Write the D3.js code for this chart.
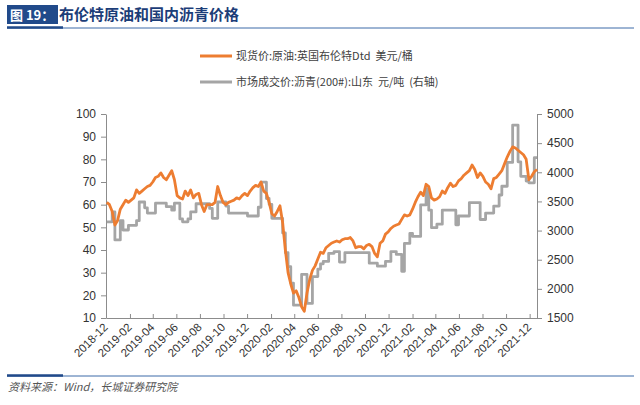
<!DOCTYPE html>
<html><head><meta charset="utf-8">
<script src="https://cdn.jsdelivr.net/npm/d3@7/dist/d3.min.js"></script>
<style>body{margin:0;background:#fff}svg text{white-space:pre}</style>
</head><body><svg id="c" width="640" height="405"></svg>
<script>
// ---- data (weekly, starting Monday 2018-12-03) ----
const startDate = "2018-12-03";
const endDate = "2021-12-20";
const brent = [
61,60,57,51,53, 58,60,62,61, 62,63,66.5,65, 66,67,68,68.5, 70,72,72.5,74,72,
71,73,75,71, 64,63,62.5,66, 64,66.5,63,64.5,65, 60,57,60,60, 60,61,68,64,61,
60,61,61.5,62, 63,62.5,64,65, 64,66,67.5,68.5,68,
70,66,65,61, 56,55,57,59.5, 52,40,30,25,21, 22,19,15,13, 21,27,31,33,
36,39,38.5,41,42, 43,43.5,44,43.5, 44.5,45,45,45.5,44, 41,41.5,41.5,40.5,
42,42.5,41.5,38.5, 37,43,44,47,48, 49.5,50.5,51,51.5,
53.5,55.5,55,55.5, 58,61,63.5,65.5, 64,69,68,63,62, 62.5,63.5,66,65,
67.5,69.5,68,68.5,70.5, 71.5,73,74,75, 77.5,75.5,72,74, 72.5,70,69,67,71.5,
72,73.5,75,78, 81,83.5,85.5,85, 84,83,82,80,71, 72.5,74.5,75.5
];
const asphalt = [
3150,3150,3320,2840,2840, 3170,3010,3010,3090, 3090,3090,3170,3490, 3490,3390,3300,3300,
3300,3470,3470,3470,3470, 3410,3410,3350,3470, 3470,3200,3150,3150, 3200,3320,3320,3460,3460,
3460,3460,3460,3380, 3210,3210,3490,3490,3490, 3420,3300,3300,3300, 3300,3300,3300,3300,
3250,3250,3250,3250,3400,
3830,3830,3550,3450, 3210,3210,3210,3210, 2960,2620,2380,2100,1720, 1720,1720,2250,2250,
1750,1750,2210,2210, 2340,2430,2470,2470,2610, 2610,2640,2640,2460, 2460,2620,2620,2620,2620,
2620,2620,2620,2620, 2620,2440,2440,2440, 2390,2390,2390,2470,2470, 2640,2640,2590,2590,
2300,2780,2780,2950, 2900,2900,2900,3440, 3440,3720,3350,3050,3050, 3110,3110,3350,3350,
3350,3350,3350,3100,3250, 3250,3250,3250,3480, 3480,3480,3480,3190, 3190,3300,3300,3300,3420,
3420,3610,3760,3760, 4170,4170,4810,4810, 4180,3930,3930,3850,3820, 3820,4250,4250
];
const xTickLabels = ["2018-12","2019-02","2019-04","2019-06","2019-08","2019-10","2019-12",
  "2020-02","2020-04","2020-06","2020-08","2020-10","2020-12",
  "2021-02","2021-04","2021-06","2021-08","2021-10","2021-12"];
const leftTicks = [10,20,30,40,50,60,70,80,90,100];
const rightTicks = [1500,2000,2500,3000,3500,4000,4500,5000];
const seriesNames = ["现货价:原油:英国布伦特Dtd\u00a0\u00a0美元/桶", "市场成交价:沥青(200#):山东\u00a0\u00a0元/吨\u00a0\u00a0(右轴)"];
const titleTag = "图 19：";
const titleText = "布伦特原油和国内沥青价格";
const sourceText = "资料来源：Wind，长城证券研究院";

// ---- drawing ----
const svg = d3.select("#c");
const parseDay = d3.timeParse("%Y-%m-%d");
const parseMonth = d3.timeParse("%Y-%m");
const d0 = parseDay(startDate);
const dates = brent.map((_, i) => d3.timeDay.offset(d0, 7 * i));
const L = 106, R = 537, T = 114, B = 318;
const x = d3.scaleTime().domain([parseDay("2018-12-01"), parseDay(endDate)]).range([L, R]);
const yL = d3.scaleLinear().domain([10, 100]).range([B, T]);
const yR = d3.scaleLinear().domain([1500, 5000]).range([B, T]);
const ORANGE = "#ED7D31", GRAY = "#A5A5A5", AX = "#8c8c8c", TXT = "#333";
const font = "'Liberation Sans', Arial, sans-serif";
const cjk = "'Noto Sans CJK SC', sans-serif";

// title
svg.append("rect").attr("x", 7).attr("y", 5).attr("width", 51).attr("height", 19).attr("fill", "#214a8a");
svg.append("text").attr("x", 10).attr("y", 19.5).attr("fill", "#fff").attr("font-family", cjk)
  .attr("font-weight", "bold").attr("font-size", 13).text(titleTag);
svg.append("text").attr("x", 59).attr("y", 20).attr("fill", "#1c3d78").attr("font-family", cjk)
  .attr("font-weight", "bold").attr("font-size", 15).text(titleText);
svg.append("line").attr("x1", 7).attr("x2", 634).attr("y1", 28).attr("y2", 28).attr("stroke", "#3d6aa8").attr("stroke-width", 1);
svg.append("line").attr("x1", 7).attr("x2", 63).attr("y1", 27.5).attr("y2", 27.5).attr("stroke", "#214a8a").attr("stroke-width", 2.5);

// footer
svg.append("line").attr("x1", 7).attr("x2", 634).attr("y1", 376).attr("y2", 376).attr("stroke", "#3d6aa8").attr("stroke-width", 1);
svg.append("line").attr("x1", 7).attr("x2", 63).attr("y1", 375.5).attr("y2", 375.5).attr("stroke", "#214a8a").attr("stroke-width", 2.5);
svg.append("text").attr("x", 8).attr("y", 391).attr("fill", "#555").attr("font-family", cjk)
  .attr("font-style", "italic").attr("font-size", 11).text(sourceText);

// legend
const leg = svg.append("g");
seriesNames.forEach((n, i) => {
  const yy = 56 + i * 26;
  leg.append("line").attr("x1", 200).attr("x2", 232).attr("y1", yy).attr("y2", yy)
    .attr("stroke", i === 0 ? ORANGE : GRAY).attr("stroke-width", 3);
  leg.append("text").attr("x", 236).attr("y", yy + 4).attr("fill", "#404040")
    .attr("font-family", cjk).attr("font-size", 11).text(n);
});

// axes
function styleAxis(g) {
  g.selectAll("path.domain").attr("stroke", AX);
  g.selectAll(".tick line").attr("stroke", AX);
  g.selectAll("text").attr("fill", TXT).attr("font-family", font).attr("font-size", 12);
}
const gL = svg.append("g").attr("transform", `translate(${L},0)`)
  .call(d3.axisLeft(yL).tickValues(leftTicks).tickFormat(d3.format("d")).tickSize(5).tickPadding(5).tickSizeOuter(0));
styleAxis(gL);
const gR = svg.append("g").attr("transform", `translate(${R},0)`)
  .call(d3.axisRight(yR).tickValues(rightTicks).tickFormat(d3.format("d")).tickSize(5).tickPadding(5).tickSizeOuter(0));
styleAxis(gR);
const xTicks = xTickLabels.map(parseMonth);
const gX = svg.append("g").attr("transform", `translate(0,${B})`)
  .call(d3.axisBottom(x).tickValues(xTicks).tickFormat(d3.timeFormat("%Y-%m")).tickSize(-4).tickSizeOuter(0).tickPadding(0));
styleAxis(gX);
gX.selectAll(".tick text").attr("text-anchor", "end").attr("dy", 0)
  .attr("transform", "translate(2,10) rotate(-45)").attr("font-size", 11.5);

// lines
svg.append("path").datum(asphalt)
  .attr("fill", "none").attr("stroke", GRAY).attr("stroke-width", 2.8).attr("stroke-linejoin", "round")
  .attr("d", d3.line().x((d, i) => x(dates[i])).y(d => yR(d)).curve(d3.curveStepAfter));
svg.append("path").datum(brent)
  .attr("fill", "none").attr("stroke", ORANGE).attr("stroke-width", 2.8).attr("stroke-linejoin", "round")
  .attr("d", d3.line().x((d, i) => x(dates[i])).y(d => yL(d)));
</script></body></html>
